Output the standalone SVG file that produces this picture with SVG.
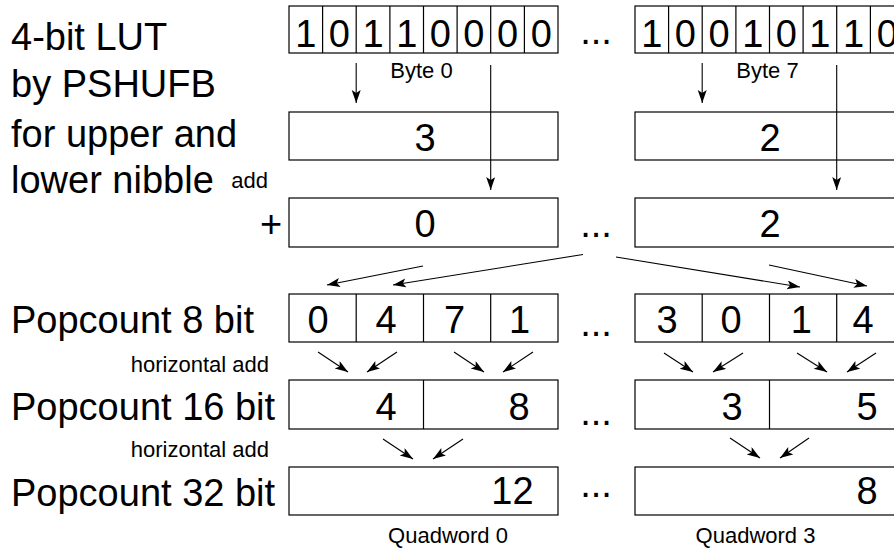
<svg xmlns="http://www.w3.org/2000/svg" width="894" height="551" viewBox="0 0 894 551">
<style>
text{font-family:"Liberation Sans",Arial,sans-serif;fill:#000}
.b{font-size:38px}
.s{font-size:22px}
.m{text-anchor:middle}
.e{text-anchor:end}
.box{fill:#fff;stroke:#000;stroke-width:1.2}
.div{stroke:#000;stroke-width:1.2}
.arr{stroke:#000;stroke-width:1.1;fill:none;marker-end:url(#ah)}
</style>
<defs>
<marker id="ah" markerUnits="userSpaceOnUse" markerWidth="14" markerHeight="10" refX="13" refY="4.5" orient="auto">
<path d="M0,0 L13,4.5 L0,9 L3,4.5 z" fill="#000"/>
</marker>
</defs>
<rect width="894" height="551" fill="#fff"/>

<g id="labels">
<text class="b" x="11" y="50">4-bit LUT</text>
<text class="b" x="11" y="97">by PSHUFB</text>
<text class="b" x="11" y="147">for upper and</text>
<text class="b" x="11" y="193">lower nibble</text>
<text class="s e" x="268" y="188">add</text>
<text class="b m" x="271" y="237">+</text>
<text class="b" x="11" y="333">Popcount 8 bit</text>
<text class="s e" x="269" y="372">horizontal add</text>
<text class="b" x="11" y="420">Popcount 16 bit</text>
<text class="s e" x="269" y="457">horizontal add</text>
<text class="b" x="11" y="506">Popcount 32 bit</text>
</g>

<g id="byte0">
<rect class="box" x="289" y="6" width="269" height="47"/>
<path class="div" d="M322.6,6V53M356.2,6V53M389.9,6V53M423.5,6V53M457.1,6V53M490.7,6V53M524.4,6V53"/>
<g class="b m">
<text x="305.8" y="47">1</text><text x="339.4" y="47">0</text><text x="373" y="47">1</text><text x="406.7" y="47">1</text>
<text x="440.3" y="47">0</text><text x="473.9" y="47">0</text><text x="507.5" y="47">0</text><text x="541.2" y="47">0</text>
</g>
<text class="s m" x="421.5" y="78">Byte 0</text>
</g>

<g id="byte7">
<rect class="box" x="635" y="6" width="269" height="47"/>
<path class="div" d="M668.6,6V53M702.2,6V53M735.9,6V53M769.5,6V53M803.1,6V53M836.7,6V53M870.4,6V53"/>
<g class="b m">
<text x="651.8" y="47">1</text><text x="685.4" y="47">0</text><text x="719" y="47">0</text><text x="752.7" y="47">1</text>
<text x="786.3" y="47">0</text><text x="819.9" y="47">1</text><text x="853.5" y="47">1</text><text x="887.2" y="47">0</text>
</g>
<text class="s m" x="767.5" y="78">Byte 7</text>
</g>

<g id="lut0"><rect class="box" x="289" y="112" width="269" height="48"/><text class="b m" x="425" y="151">3</text></g>
<g id="lut7"><rect class="box" x="635" y="112" width="269" height="48"/><text class="b m" x="770" y="151">2</text></g>
<g id="sum0"><rect class="box" x="289" y="198" width="269" height="49"/><text class="b m" x="425" y="237">0</text></g>
<g id="sum7"><rect class="box" x="635" y="198" width="269" height="49"/><text class="b m" x="770" y="237">2</text></g>

<g id="pc8a">
<rect class="box" x="289" y="294" width="269" height="48"/>
<path class="div" d="M356.2,294V342M423.5,294V342M490.7,294V342"/>
<g class="b m"><text x="318" y="333">0</text><text x="386" y="333">4</text><text x="454.5" y="333">7</text><text x="519.5" y="333">1</text></g>
</g>
<g id="pc8b">
<rect class="box" x="635" y="294" width="269" height="48"/>
<path class="div" d="M702.2,294V342M769.5,294V342M836.7,294V342"/>
<g class="b m"><text x="667" y="333">3</text><text x="731" y="333">0</text><text x="801.4" y="333">1</text><text x="863" y="333">4</text></g>
</g>
<g id="pc16a">
<rect class="box" x="289" y="380" width="269" height="49"/>
<path class="div" d="M423.5,380V429"/>
<g class="b m"><text x="386" y="420">4</text><text x="519" y="420">8</text></g>
</g>
<g id="pc16b">
<rect class="box" x="635" y="380" width="269" height="49"/>
<path class="div" d="M769.5,380V429"/>
<g class="b m"><text x="732" y="420">3</text><text x="867" y="420">5</text></g>
</g>
<g id="pc32a">
<rect class="box" x="289" y="467" width="269" height="48"/>
<text class="b m" x="512.5" y="504">12</text>
<text class="s m" x="448" y="543">Quadword 0</text>
</g>
<g id="pc32b">
<rect class="box" x="635" y="467" width="269" height="48"/>
<text class="b m" x="867" y="504">8</text>
<text class="s m" x="755.5" y="543">Quadword 3</text>
</g>

<g id="dots" class="b m">
<text x="596" y="44">...</text>
<text x="596" y="237">...</text>
<text x="596" y="336">...</text>
<text x="596" y="425">...</text>
<text x="596" y="497">...</text>
</g>

<g id="connectors">
<path class="arr" d="M356.2,63V103"/>
<path class="arr" d="M490.7,65V190"/>
<path class="arr" d="M702.2,63V103"/>
<path class="arr" d="M836.7,65V190"/>
<path class="arr" d="M423,266L327,285"/>
<path class="arr" d="M583,254.5L393,285"/>
<path class="arr" d="M616,257L800,287"/>
<path class="arr" d="M769,265L867,286"/>
<path class="arr" d="M318,352L348,372"/>
<path class="arr" d="M397,352L367,372"/>
<path class="arr" d="M454,352L484,372"/>
<path class="arr" d="M533,352L503,372"/>
<path class="arr" d="M664,353L693,372"/>
<path class="arr" d="M743,353L713,372"/>
<path class="arr" d="M797,353L827,372"/>
<path class="arr" d="M876,353L847,372"/>
<path class="arr" d="M383,439L413,459"/>
<path class="arr" d="M463,439L433,459"/>
<path class="arr" d="M730,438L760,458"/>
<path class="arr" d="M809,438L780,458"/>
</g>
</svg>
